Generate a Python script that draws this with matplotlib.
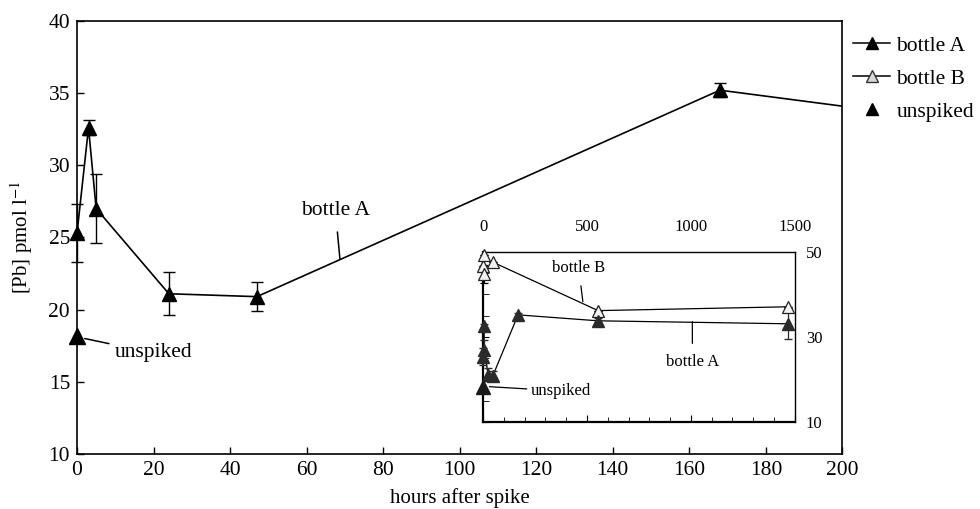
import matplotlib
matplotlib.use("Agg")
import matplotlib.pyplot as plt
from matplotlib.ticker import MultipleLocator, FixedLocator
from matplotlib.lines import Line2D

plt.rcParams['font.family'] = ['Liberation Serif', 'DejaVu Serif']
plt.rcParams['mathtext.fontset'] = 'stix'

# bottle A (spiked), hours after spike vs [Pb]
a_hours = [0, 3, 5, 24, 47, 168, 220, 553, 1466]
a_pb = [25.3, 32.6, 27.0, 21.1, 20.9, 35.2, 33.4, 33.8, 33.1]
a_err = [2.0, 0.5, 2.4, 1.5, 1.0, 0.5, 0.0, 0.6, 3.6]
a_marked = [0, 1, 2, 3, 4, 5, 7, 8]

# bottle B (only in inset)
b_hours = [0, 3, 5, 47, 553, 1466]
b_pb = [46.7, 49.3, 44.8, 47.6, 36.2, 37.1]
b_err = [0.0, 0.0, 2.2, 0.0, 0.0, 0.0]

# unspiked sample
u_hours = [0]
u_pb = [18.2]

fig = plt.figure(figsize=(9.8, 5.09), dpi=100)
ax = fig.add_axes([0.0786, 0.108, 0.781, 0.851])

# main panel
ax.plot(a_hours, a_pb, color='black', lw=1.2, zorder=2)
mh = [a_hours[i] for i in a_marked if a_hours[i] <= 200]
mp = [a_pb[i] for i in a_marked if a_hours[i] <= 200]
me = [a_err[i] for i in a_marked if a_hours[i] <= 200]
ax.errorbar(mh, mp, yerr=me, fmt='^', color='black', ms=10, capsize=4,
            elinewidth=1, capthick=1, clip_on=False, zorder=3)
ax.plot(u_hours, u_pb, '^', color='black', ms=11, clip_on=False, zorder=3)

ax.set_xlim(0, 200)
ax.set_ylim(10, 40)
ax.xaxis.set_major_locator(MultipleLocator(20))
ax.yaxis.set_major_locator(MultipleLocator(5))
ax.tick_params(direction='in', length=5, width=1, labelsize=15.5, pad=5)
for s in ax.spines.values():
    s.set_linewidth(1.2)
ax.set_xlabel('hours after spike', fontsize=15, labelpad=6)
ax.set_ylabel('[Pb] pmol l$^{-1}$', fontsize=15, labelpad=10)

ax.annotate('bottle A', xy=(68.7, 23.5), xytext=(67.5, 26.9), fontsize=15.5,
            ha='center', va='center',
            arrowprops=dict(arrowstyle='-', color='black', lw=1.1,
                            shrinkA=7, shrinkB=0))
ax.annotate('unspiked', xy=(2.0, 18.0), xytext=(9.8, 17.0), fontsize=15.5,
            ha='left', va='center',
            arrowprops=dict(arrowstyle='-', color='black', lw=1.1,
                            shrinkA=2, shrinkB=0))

# inset panel
ins = fig.add_axes([0.493, 0.171, 0.318, 0.334])
ins.plot(b_hours, b_pb, color='black', lw=0.9, zorder=2)
ins.errorbar(b_hours, b_pb, yerr=b_err, fmt='^', mfc='#f2f2f2', mec='#222222',
             ecolor='black', ms=9, mew=0.9, capsize=3, elinewidth=0.9,
             clip_on=False, zorder=3)
ah = [a_hours[i] for i in a_marked]
ap = [a_pb[i] for i in a_marked]
ins.plot(ah, ap, color='black', lw=0.9, zorder=2)
ins.errorbar(ah, ap, yerr=[a_err[i] for i in a_marked], fmt='^',
             color='#2b2b2b', ms=9, capsize=3, elinewidth=0.9,
             clip_on=False, zorder=3)
ins.plot(u_hours, u_pb, '^', color='#1a1a1a', ms=10, clip_on=False, zorder=4)

ins.set_xlim(0, 1500)
ins.set_ylim(10, 50)
ins.xaxis.set_major_locator(MultipleLocator(500))
ins.xaxis.set_minor_locator(MultipleLocator(100))
ins.yaxis.set_major_locator(FixedLocator([10, 30, 50]))
ins.yaxis.set_minor_locator(MultipleLocator(5))
ins.tick_params(axis='x', which='both', direction='in', bottom=True, top=False,
                labelbottom=False, labeltop=True, labelsize=12, pad=12)
ins.tick_params(axis='x', which='major', length=5)
ins.tick_params(axis='x', which='minor', length=3.5)
ins.tick_params(axis='y', which='both', direction='in', left=True, right=False,
                labelleft=False, labelright=True, labelsize=12, length=4, pad=8)
for s in ins.spines.values():
    s.set_linewidth(1.0)
ins.spines['bottom'].set_linewidth(1.6)
ins.spines['left'].set_linewidth(1.6)

ins.annotate('bottle B', xy=(480, 38.3), xytext=(460, 46.2), fontsize=12,
             ha='center', va='center',
             arrowprops=dict(arrowstyle='-', color='black', lw=0.9,
                             shrinkA=5, shrinkB=0))
ins.annotate('bottle A', xy=(1007, 33.6), xytext=(1007, 24.0), fontsize=12,
             ha='center', va='center',
             arrowprops=dict(arrowstyle='-', color='black', lw=0.9,
                             shrinkA=6, shrinkB=0))
ins.annotate('unspiked', xy=(30, 18.3), xytext=(230, 17.3), fontsize=12,
             ha='left', va='center',
             arrowprops=dict(arrowstyle='-', color='black', lw=0.9,
                             shrinkA=1, shrinkB=0))

# legend
handles = [
    Line2D([], [], color='black', lw=1.1, marker='^', ms=8, mfc='black', mec='black'),
    Line2D([], [], color='black', lw=1.1, marker='^', ms=8, mfc='#d8d8d8', mec='#333333'),
    Line2D([], [], color='none', marker='^', ms=8, mfc='black', mec='black'),
]
fig.legend(handles, ['bottle A', 'bottle B', 'unspiked'], loc='upper left',
           bbox_to_anchor=(0.862, 0.947), frameon=False, fontsize=15.5,
           handlelength=1.7, handletextpad=0.3, labelspacing=0.6,
           borderaxespad=0)

fig.savefig('out.png', dpi=100)
